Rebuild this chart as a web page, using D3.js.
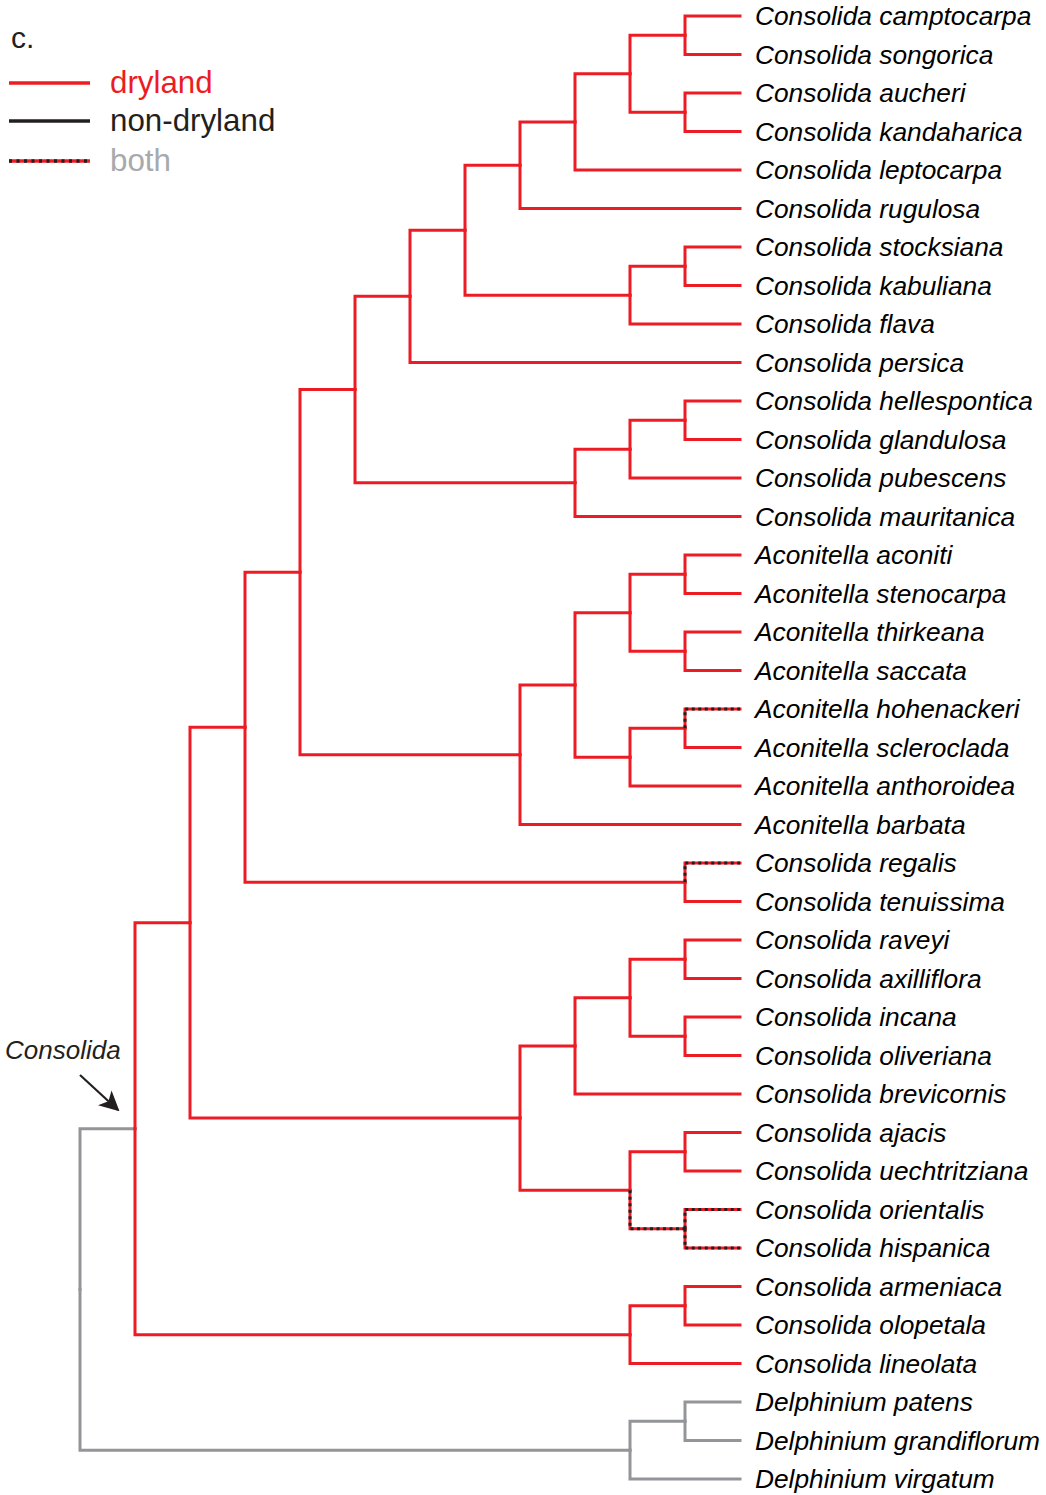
<!DOCTYPE html>
<html>
<head>
<meta charset="utf-8">
<script src="https://cdn.jsdelivr.net/npm/d3@7"></script>
<style>
  body { margin: 0; background: #fff; }
  text { font-family: 'Liberation Sans', Arial, sans-serif; }
</style>
</head>
<body>
<svg id="chart"></svg>
<script>
// tree in newick order, top to bottom
const newick = '((((((((((((Consolida camptocarpa,Consolida songorica),(Consolida aucheri,Consolida kandaharica)),Consolida leptocarpa),Consolida rugulosa),((Consolida stocksiana,Consolida kabuliana),Consolida flava)),Consolida persica),(((Consolida hellespontica,Consolida glandulosa),Consolida pubescens),Consolida mauritanica)),((((Aconitella aconiti,Aconitella stenocarpa),(Aconitella thirkeana,Aconitella saccata)),((Aconitella hohenackeri,Aconitella scleroclada),Aconitella anthoroidea)),Aconitella barbata)),(Consolida regalis,Consolida tenuissima)),((((Consolida raveyi,Consolida axilliflora),(Consolida incana,Consolida oliveriana)),Consolida brevicornis),((Consolida ajacis,Consolida uechtritziana),(Consolida orientalis,Consolida hispanica)))),((Consolida armeniaca,Consolida olopetala),Consolida lineolata)),((Delphinium patens,Delphinium grandiflorum),Delphinium virgatum))'

// branches scored "both" (named by the leaves under them)
const bothClades = [
  ['Aconitella hohenackeri'],
  ['Consolida regalis'],
  ['Consolida orientalis', 'Consolida hispanica'],
  ['Consolida orientalis'],
  ['Consolida hispanica']
]
// outgroup branches (grey)
const outgroup = ['Delphinium patens', 'Delphinium grandiflorum', 'Delphinium virgatum']
const crownGroup = 'Consolida' // stem of the crown is drawn grey too

const legendItems = ['dryland', 'non-dryland', 'both']

const RED = '#ed1c24'
const GREY = '#939598'
const DARK = '#231f20'
const width = 1046
const height = 1495

// tiny newick parser -> nested {name, children}
function parseNewick (s) {
  let i = 0
  function node () {
    if (s[i] === '(') {
      i++
      const children = [node()]
      while (s[i] === ',') { i++; children.push(node()) }
      i++ // ')'
      return {children}
    }
    let name = ''
    while (i < s.length && s[i] !== ',' && s[i] !== ')') name += s[i++]
    return {name}
  }
  return node()
}

const root = d3.hierarchy(parseNewick(newick))
d3.cluster().size([1, root.height]).separation(() => 1)(root)

const x = d3.scaleLinear().domain([0, root.height]).range([80, 740])
// cluster pads half a step at each end, so fit the leaves themselves
const y = d3.scaleLinear().domain(d3.extent(root.leaves(), d => d.x)).range([16, 1479])

const svg = d3.select('#chart').attr('width', width).attr('height', height)

function leafKey (n) { return n.leaves().map(l => l.data.name).sort().join('|') }
const bothKeys = new Set(bothClades.map(c => c.slice().sort().join('|')))

function branchType (n) {
  const names = n.leaves().map(l => l.data.name)
  if (names.every(nm => outgroup.includes(nm))) return 'grey'
  if (n.parent === root) return 'grey'
  if (bothKeys.has(leafKey(n))) return 'both'
  return 'dry'
}

const links = root.descendants().filter(n => n.parent)
const pathOf = n => `M${x(n.parent.y)},${y(n.parent.x)}V${y(n.x)}H${x(n.y)}`

const g = svg.append('g').attr('fill', 'none').attr('stroke-width', 3)
  .attr('stroke-linecap', 'square')

g.selectAll('path.branch')
  .data(links)
  .join('path')
  .attr('class', 'branch')
  .attr('d', pathOf)
  .attr('stroke', d => branchType(d) === 'grey' ? GREY : RED)

g.selectAll('path.dots')
  .data(links.filter(d => branchType(d) === 'both'))
  .join('path')
  .attr('class', 'dots')
  .attr('d', pathOf)
  .attr('stroke', DARK)
  .attr('stroke-width', 3)
  .attr('stroke-linecap', 'butt')
  .attr('stroke-dasharray', '3,3.5')

// tip labels
svg.append('g').selectAll('text')
  .data(root.leaves())
  .join('text')
  .attr('x', 755)
  .attr('y', d => y(d.x) + 9)
  .attr('font-size', 26.3)
  .attr('font-style', 'italic')
  .attr('fill', '#000')
  .text(d => d.data.name)

// panel letter + legend
svg.append('text').attr('x', 11).attr('y', 48).attr('font-size', 30).attr('fill', DARK).text('c.')

const legendColors = [RED, DARK, RED]
const legendText = [RED, DARK, '#a7a9ac']
const legendY = [83, 121, 161]
const lg = svg.append('g')
lg.selectAll('line.l')
  .data(legendItems)
  .join('line')
  .attr('class', 'l')
  .attr('x1', 9).attr('x2', 90)
  .attr('y1', (d, i) => legendY[i]).attr('y2', (d, i) => legendY[i])
  .attr('stroke', (d, i) => legendColors[i])
  .attr('stroke-width', 3.5)
lg.append('line')
  .attr('x1', 9).attr('x2', 90).attr('y1', legendY[2]).attr('y2', legendY[2])
  .attr('stroke', DARK).attr('stroke-width', 3.5)
  .attr('stroke-dasharray', '3,4.5')
lg.selectAll('text')
  .data(legendItems)
  .join('text')
  .attr('x', 110)
  .attr('y', (d, i) => legendY[i] + 10)
  .attr('font-size', 31.3)
  .attr('fill', (d, i) => legendText[i])
  .text(d => d)

// crown label with arrow
svg.append('defs').append('marker')
  .attr('id', 'arrow').attr('viewBox', '0 0 10 10')
  .attr('refX', 9).attr('refY', 5)
  .attr('markerWidth', 20).attr('markerHeight', 20)
  .attr('markerUnits', 'userSpaceOnUse')
  .attr('orient', 'auto')
  .append('path').attr('d', 'M0,0L10,5L0,10L2.5,5z').attr('fill', DARK)

svg.append('text')
  .attr('x', 5).attr('y', 1059)
  .attr('font-size', 26).attr('font-style', 'italic')
  .attr('fill', DARK)
  .text(crownGroup)
svg.append('line')
  .attr('x1', 80).attr('y1', 1075).attr('x2', 118).attr('y2', 1110)
  .attr('stroke', DARK).attr('stroke-width', 2.2)
  .attr('marker-end', 'url(#arrow)')
</script>
</body>
</html>
